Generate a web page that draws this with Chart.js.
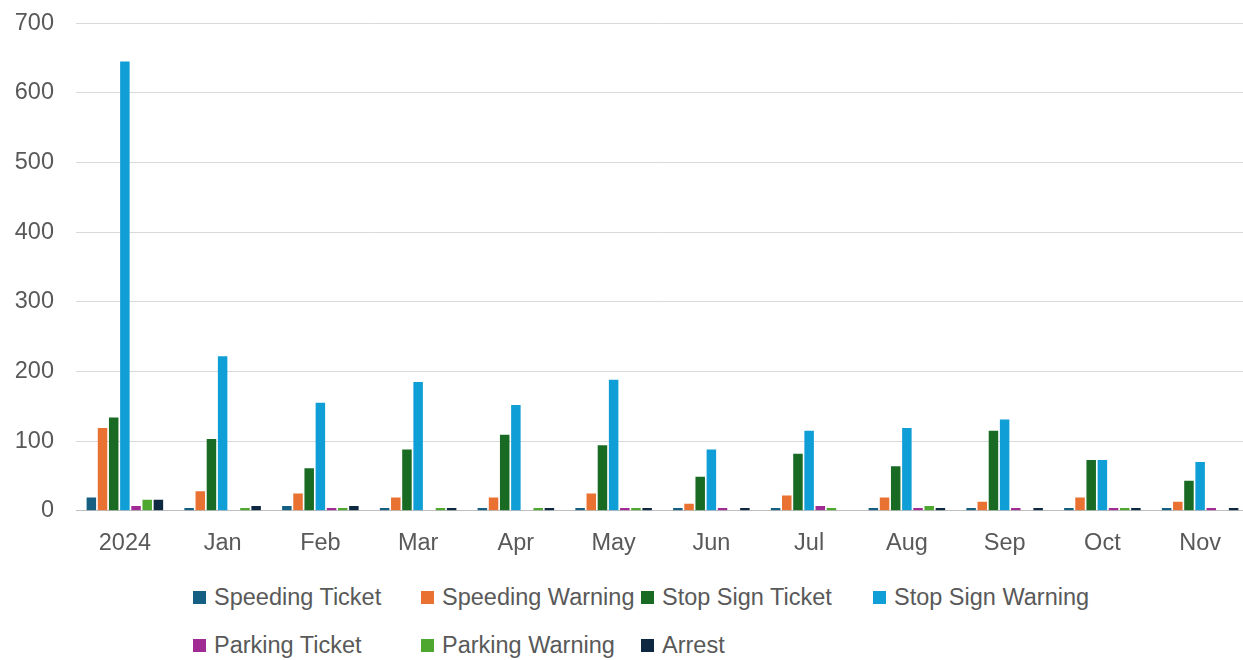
<!DOCTYPE html>
<html>
<head>
<meta charset="utf-8">
<script src="https://cdn.jsdelivr.net/npm/chart.js@4.4.1/dist/chart.umd.min.js"></script>
<style>
  html, body { margin: 0; padding: 0; background: #fff; }
  body { width: 1243px; height: 660px; position: relative; overflow: hidden; font-family: 'Liberation Sans', Arial, sans-serif; }
  .chart-wrap { position: absolute; left: 0; top: -13px; width: 1249px; height: 582px; }
  #legend { position: absolute; left: 193px; top: 580px; display: grid;
    grid-template-columns: 228px 220px 232px 240px; row-gap: 14px; }
  .lg-item { display: flex; align-items: center; font-size: 23.5px; color: #595959; height: 34px; white-space: nowrap; }
  .lg-box { width: 13px; height: 13px; margin-right: 8px; flex: none; }
</style>
</head>
<body>
<div class="chart-wrap"><canvas id="chart"></canvas></div>
<div id="legend"></div>
<script>
// ── Data ───────────────────────────────
const categories = ['2024', 'Jan', 'Feb', 'Mar', 'Apr', 'May', 'Jun', 'Jul', 'Aug', 'Sep', 'Oct', 'Nov'];
const speedingTicket  = [19, 4, 7, 4, 4, 4, 4, 4, 4, 4, 4, 4];
const speedingWarning = [119, 28, 25, 19, 19, 25, 10, 22, 19, 13, 19, 13];
const stopSignTicket  = [134, 103, 61, 88, 109, 94, 49, 82, 64, 115, 73, 43];
const stopSignWarning = [645, 222, 155, 185, 152, 188, 88, 115, 119, 131, 73, 70];
const parkingTicket   = [7, 0, 4, 0, 0, 4, 4, 7, 4, 4, 4, 4];
const parkingWarning  = [16, 4, 4, 4, 4, 4, 0, 4, 7, 0, 4, 0];
const arrest          = [16, 7, 7, 4, 4, 4, 4, 0, 4, 4, 4, 4];
const yTicks = [0, 100, 200, 300, 400, 500, 600, 700];

// ── Style ───────────────────────────────
const C = {
  st: '#156082', sw: '#E97132', sst: '#196B24', ssw: '#0F9ED5',
  pt: '#A02B93', pw: '#4EA72E', ar: '#0E2841',
  grid: '#d9d9d9', axis: '#bfbfbf', text: '#595959',
  font: '"Liberation Sans", Arial, sans-serif',
};

function ds(label, data, color) {
  return { label, data, backgroundColor: color, borderWidth: 0,
    barPercentage: 0.85, categoryPercentage: 0.8 };
}

const chart = new Chart(document.getElementById('chart'), {
  type: 'bar',
  data: {
    labels: categories,
    datasets: [
      ds('Speeding Ticket', speedingTicket, C.st),
      ds('Speeding Warning', speedingWarning, C.sw),
      ds('Stop Sign Ticket', stopSignTicket, C.sst),
      ds('Stop Sign Warning', stopSignWarning, C.ssw),
      ds('Parking Ticket', parkingTicket, C.pt),
      ds('Parking Warning', parkingWarning, C.pw),
      ds('Arrest', arrest, C.ar),
    ]
  },
  options: {
    responsive: true, maintainAspectRatio: false, animation: false,
    layout: { padding: { top: 0, left: 12, right: 0, bottom: 0 } },
    plugins: { legend: { display: false }, tooltip: { enabled: false } },
    scales: {
      x: {
        grid: { display: false },
        border: { color: C.axis, width: 1 },
        ticks: { color: C.text, font: { family: C.font, size: 23.5 }, padding: 11 },
      },
      y: {
        min: 0, max: 700,
        afterBuildTicks: (axis) => { axis.ticks = yTicks.map(v => ({ value: v })); },
        afterFit: (axis) => { axis.width = 64; },
        grid: { color: C.grid, drawTicks: false },
        border: { display: false },
        ticks: { color: C.text, font: { family: C.font, size: 23.5 }, padding: 22 },
      }
    }
  }
});

// HTML legend laid out in columns like the original
const legend = document.getElementById('legend');
chart.data.datasets.forEach(d => {
  const item = document.createElement('div');
  item.className = 'lg-item';
  item.innerHTML = `<span class="lg-box" style="background:${d.backgroundColor}"></span>${d.label}`;
  legend.appendChild(item);
});
</script>
</body>
</html>
